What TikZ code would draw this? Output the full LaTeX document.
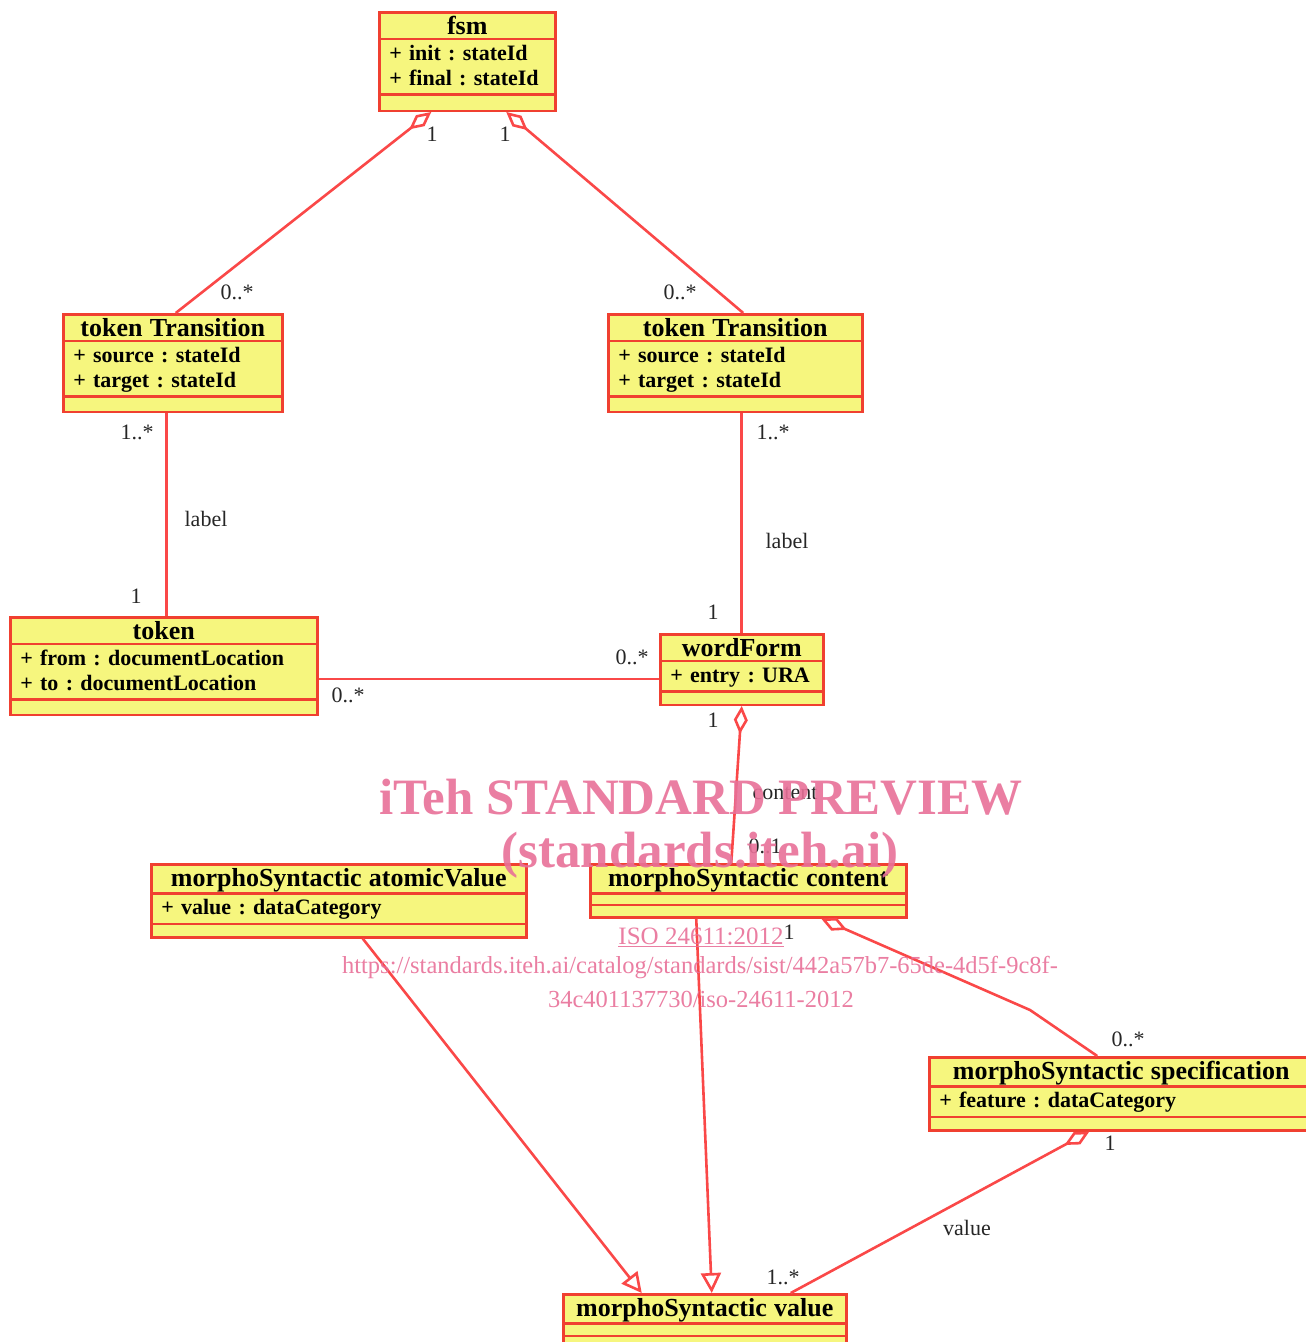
\documentclass[tikz,border=0pt]{standalone}
\usepackage{fontspec}
\setmainfont{Liberation Serif}
\usetikzlibrary{shapes.multipart,arrows.meta}
\definecolor{umlfill}{RGB}{246,246,126}
\definecolor{umlline}{RGB}{240,64,48}
\definecolor{assocred}{RGB}{250,72,72}
\definecolor{wmpink}{RGB}{232,112,152}
\frenchspacing
\newcommand{\ctitle}[1]{\centering\fontsize{26}{29}\selectfont #1\rule[-3pt]{0pt}{24pt}\par}
\newcommand{\attrs}[1]{\frenchspacing\rule{0pt}{20pt}#1\rule[-8pt]{0pt}{8pt}\par}
\newcommand{\emptyrow}[1]{\rule{0pt}{#1}}
\tikzstyle{umlclass} = [rectangle split, rectangle split parts=3, draw=umlline, fill=umlfill, line width=2.5pt, inner xsep=10pt, inner ysep=0pt, align=left, anchor=north west, font=\fontsize{22}{25}\selectfont\bfseries]
\tikzstyle{mult} = [font=\fontsize{22}{26}\selectfont, text=black!85, inner sep=0pt]
\tikzstyle{assoc} = [draw=assocred, line width=2.6pt]
\tikzstyle{aggr} = [assoc, {Diamond[open,length=28pt,width=14pt]}-]
\tikzstyle{gen} = [assoc, -{Triangle[open,length=20pt,width=20pt]}]
\tikzstyle{wm} = [text=wmpink, text opacity=0.9, inner sep=0pt]

\begin{document}
\begin{tikzpicture}[x=1pt,y=-1pt]
	\useasboundingbox (0,0) rectangle (1306,1342);

	% put the classes where we want them
	\node[umlclass, text width=156pt] (fsm) at (378,11) {\ctitle{fsm}\nodepart{second}\attrs{+ init : stateId\\+ final : stateId}\nodepart{third}\emptyrow{14pt}};
	\node[umlclass, text width=199pt] (tt1) at (62,313) {\ctitle{token Transition}\nodepart{second}\attrs{+ source : stateId\\+ target : stateId}\nodepart{third}\emptyrow{13pt}};
	\node[umlclass, text width=234pt] (tt2) at (607,313) {\ctitle{token Transition}\nodepart{second}\attrs{+ source : stateId\\+ target : stateId}\nodepart{third}\emptyrow{13pt}};
	\node[umlclass, text width=287pt] (tok) at (9,616) {\ctitle{token}\nodepart{second}\attrs{+ from : documentLocation\\+ to : documentLocation}\nodepart{third}\emptyrow{13pt}};
	\node[umlclass, text width=143pt] (wf) at (659,633) {\ctitle{wordForm}\nodepart{second}\attrs{+ entry : URA}\nodepart{third}\emptyrow{11pt}};
	\node[umlclass, text width=355pt] (msav) at (150,863) {\ctitle{morphoSyntactic atomicValue}\nodepart{second}\attrs{+ value : dataCategory}\nodepart{third}\emptyrow{11pt}};
	\node[umlclass, text width=296pt] (msc) at (589,863) {\ctitle{morphoSyntactic content}\nodepart{second}\emptyrow{9pt}\nodepart{third}\emptyrow{10pt}};
	\node[umlclass, text width=364pt] (mss) at (928,1056) {\ctitle{morphoSyntactic specification}\nodepart{second}\attrs{+ feature : dataCategory}\nodepart{third}\emptyrow{11pt}};
	\node[umlclass, text width=263pt] (msv) at (562,1293) {\ctitle{morphoSyntactic value}\nodepart{second}\emptyrow{10pt}\nodepart{third}\emptyrow{24pt}};

	% draw the associations
	\draw[aggr] ([xshift=-36pt]fsm.south) -- ([xshift=3pt]tt1.north);
	\draw[aggr] ([xshift=39pt]fsm.south) -- ([xshift=8pt]tt2.north);
	\draw[assoc] ([xshift=-6pt]tt1.south) -- ([xshift=-6pt]tt1.south |- tok.north);
	\draw[assoc] (wf.north |- tt2.south) -- (wf.north);
	\draw[assoc] ([yshift=-13pt]tok.east) -- ([yshift=-13pt]tok.east -| wf.west);
	\draw[aggr] (wf.south) -- ([xshift=-17pt]msc.north);
	\coordinate (bend) at (1030,1010);
	\draw[aggr] ([xshift=73pt]msc.south) -- (bend) -- ([xshift=-24pt]mss.north);
	\draw[aggr] ([xshift=-32pt]mss.south) -- ([xshift=86pt]msv.north);

	% generalizations
	\draw[gen] ([xshift=24pt]msav.south) -- ([xshift=-63pt]msv.north);
	\draw[gen] ([xshift=-52pt]msc.south) -- ([xshift=7pt]msv.north);

	% multiplicities and role names
	\node[mult] (m1) at (432,134) {1};
	\node[mult] (m2) at (505,134) {1};
	\node[mult] (m3) at (237,292) {0..*};
	\node[mult] (m4) at (680,292) {0..*};
	\node[mult] (m5) at (137,432) {1..*};
	\node[mult] (r1) at (206,519) {label};
	\node[mult] (m6) at (136,596) {1};
	\node[mult] (m7) at (773,432) {1..*};
	\node[mult] (r2) at (787,541) {label};
	\node[mult] (m8) at (713,612) {1};
	\node[mult] (m9) at (632,657) {0..*};
	\node[mult] (m10) at (348,695) {0..*};
	\node[mult] (m11) at (713,720) {1};
	\node[mult] (r3) at (785,793) {content};
	\node[mult] (m12) at (765,846) {0..1};
	\node[mult] (m13) at (789,932) {1};
	\node[mult] (m14) at (1128,1039) {0..*};
	\node[mult] (m15) at (1110,1143) {1};
	\node[mult] (r4) at (967,1228) {value};
	\node[mult] (m16) at (783,1277) {1..*};

	% watermark
	\node[wm, font=\fontsize{51}{55}\selectfont\bfseries] (wm1) at (701,797) {iTeh STANDARD PREVIEW};
	\node[wm, font=\fontsize{51}{55}\selectfont\bfseries] (wm2) at (700,855) {(standards.iteh.ai)};
	\node[wm, font=\fontsize{25}{28}\selectfont] (wm3) at (701,937) {\underline{ISO 24611:2012}};
	\node[wm, font=\fontsize{24.5}{28}\selectfont] (wm4) at (700,968) {https://standards.iteh.ai/catalog/standards/sist/442a57b7-65de-4d5f-9c8f-};
	\node[wm, font=\fontsize{24.5}{28}\selectfont] (wm5) at (701,999) {34c401137730/iso-24611-2012};

\end{tikzpicture}
\end{document}
